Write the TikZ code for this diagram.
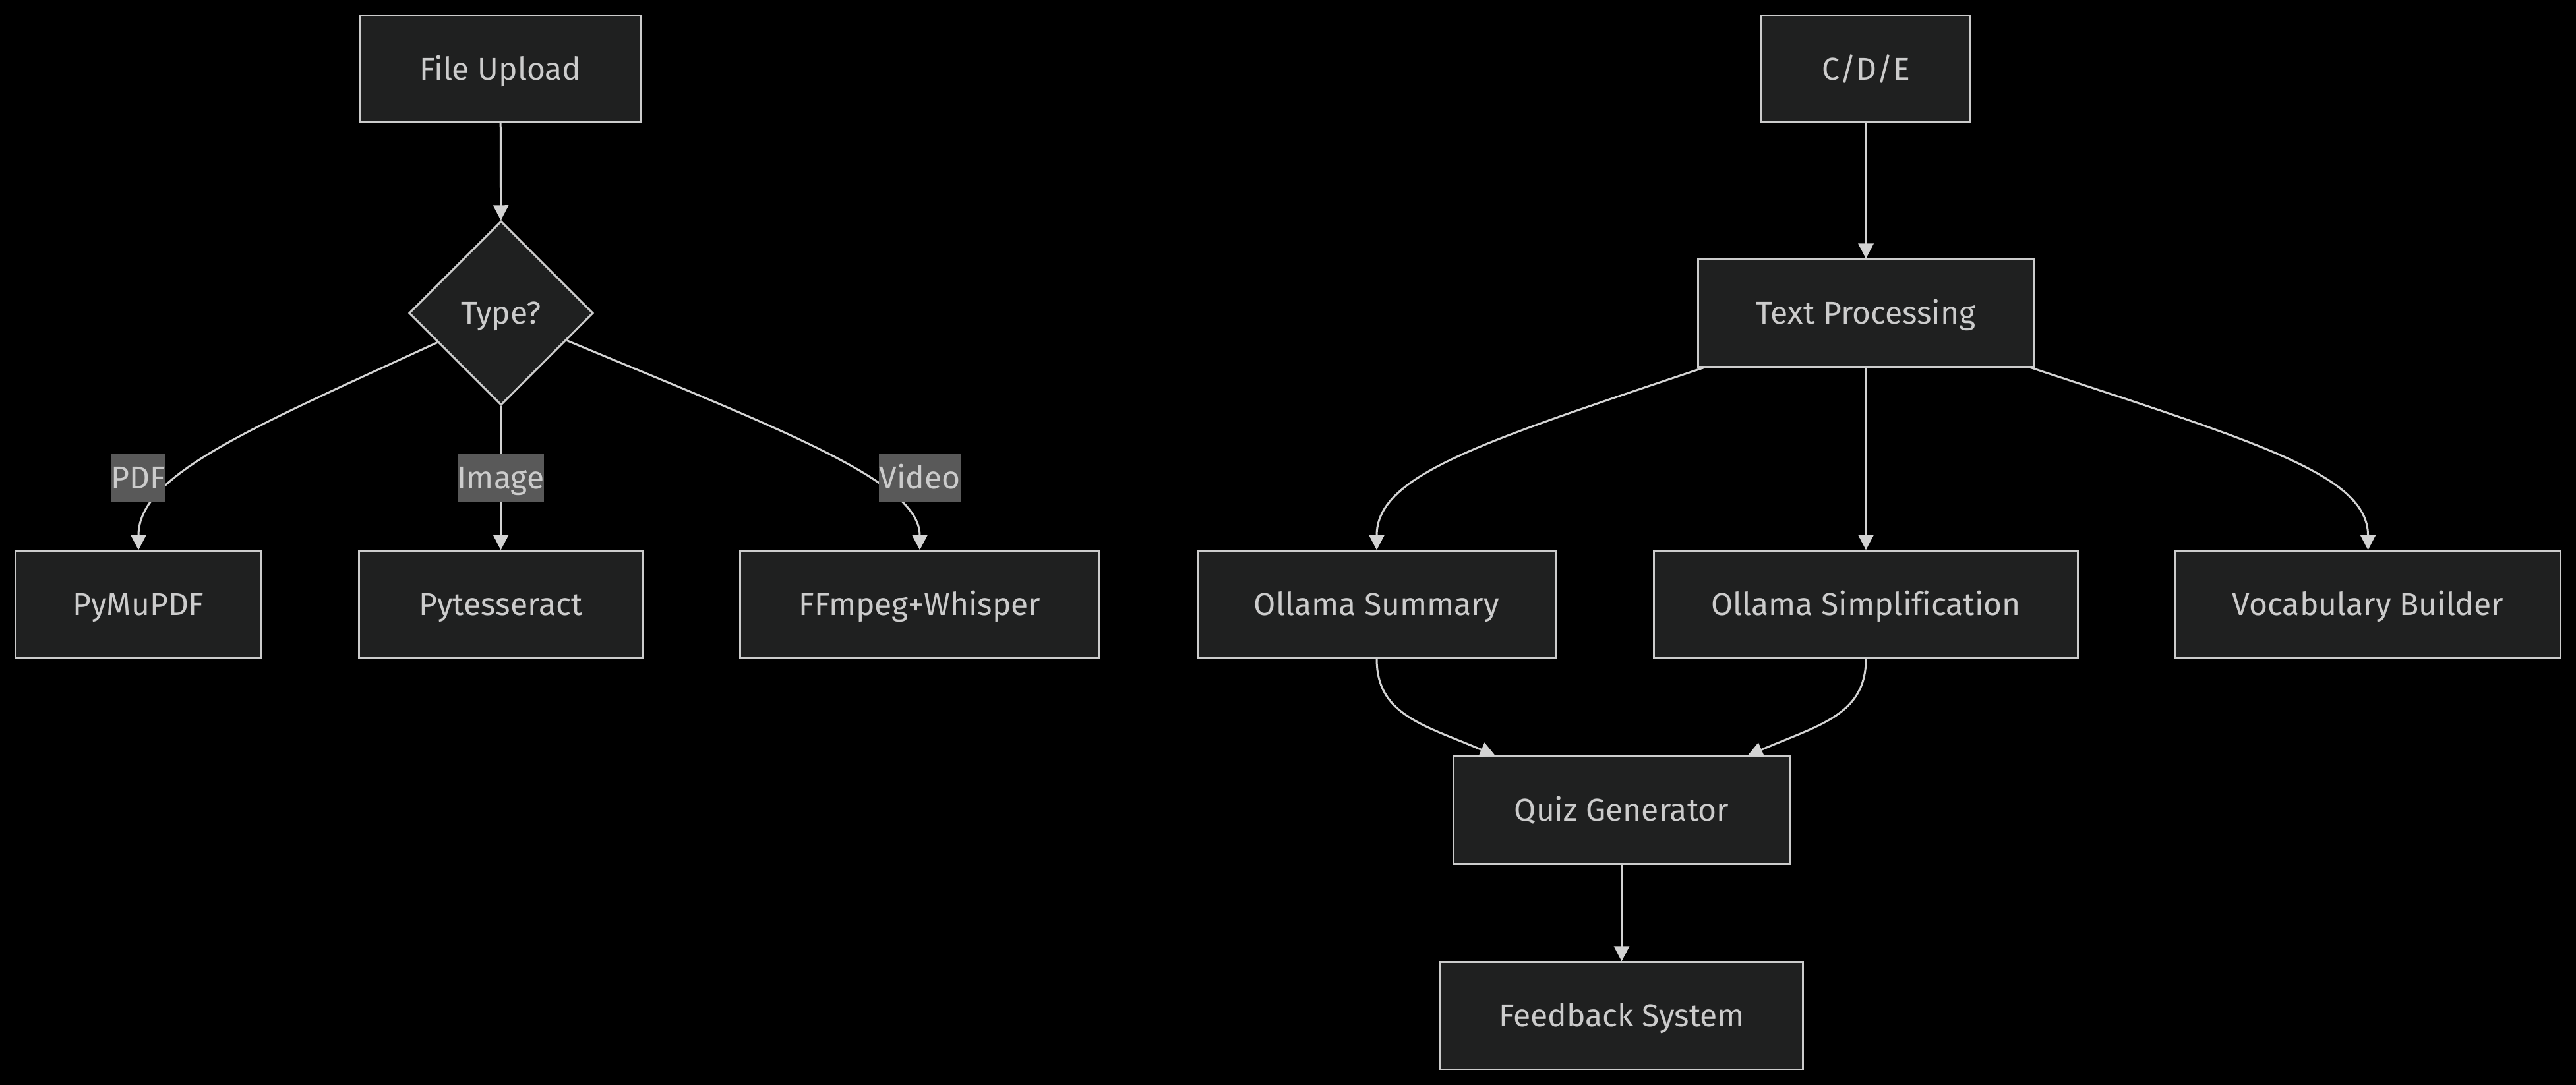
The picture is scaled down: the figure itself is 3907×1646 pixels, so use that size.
\documentclass[tikz,border=0pt]{standalone}
\usepackage{fontspec}
\setmainfont{Fira Sans}[Ligatures=NoCommon]
\usepackage{tikz}
\usetikzlibrary{arrows.meta,shapes.geometric}
\definecolor{nodefill}{HTML}{1F2020}
\definecolor{nodeline}{HTML}{CCCCCC}
\definecolor{edgeline}{HTML}{D3D3D3}
\definecolor{labelfill}{HTML}{595959}
\definecolor{textgrey}{HTML}{CCCCCC}

\begin{document}
\begin{tikzpicture}[x=0.01cm,y=-0.01cm]
        \tikzstyle{every node}+=[inner sep=0pt,text=textgrey,font=\fontsize{13.66}{16}\selectfont,text height=0.33cm,text depth=0cm]
        \tikzstyle{box}=[draw=nodeline,fill=nodefill,line width=0.03cm,minimum height=1.62cm]
        \tikzstyle{decision}=[box,diamond,shape aspect=1,minimum size=2.79cm]
        \tikzstyle{edgelabel}=[fill=labelfill,minimum height=0.72cm]
        \tikzstyle{link}=[draw=edgeline,line width=0.03cm,-{Triangle[length=0.23cm,width=0.23cm]}]
        \fill [black] (0,0) rectangle (3907,1646);
        \node [box,minimum width=4.24cm] (upload) at (759,104.5) {File Upload};
        \node [decision] (type) at (760,475) {Type?};
        \node [box,minimum width=3.72cm] (pdf) at (210,917) {PyMuPDF};
        \node [box,minimum width=4.29cm] (ocr) at (759.5,917) {Pytesseract};
        \node [box,minimum width=5.44cm] (video) at (1395,917) {FFmpeg+Whisper};
        \node [box,minimum width=3.17cm] (cde) at (2830,104.5) {C/D/E};
        \node [box,minimum width=5.09cm] (textproc) at (2830,475) {Text Processing};
        \node [box,minimum width=5.42cm] (summary) at (2088,917) {Ollama Summary};
        \node [box,minimum width=6.43cm] (simplify) at (2830,917) {Ollama Simplification};
        \node [box,minimum width=5.83cm] (vocab) at (3591.5,917) {Vocabulary Builder};
        \node [box,minimum width=5.09cm] (quiz) at (2459.5,1229) {Quiz Generator};
        \node [box,minimum width=5.49cm] (feedback) at (2459.5,1541) {Feedback System};
        \draw [link] (upload) -- (type);
        \draw [link] (type) .. controls (380,650) and (210,720) .. (pdf);
        \draw [link] (type) -- (ocr);
        \draw [link] (type) .. controls (1180,650) and (1395,730) .. (video);
        \node [edgelabel] (lpdf) at (210,725) {PDF};
        \node [edgelabel] (limage) at (759.5,725) {Image};
        \node [edgelabel] (lvideo) at (1395,725) {Video};
        \draw [link] (cde) -- (textproc);
        \draw [link] (textproc) .. controls (2250,670) and (2088,720) .. (summary);
        \draw [link] (textproc) -- (simplify);
        \draw [link] (textproc) .. controls (3420,670) and (3591.5,720) .. (vocab);
        \draw [link] (summary) .. controls (2088,1085) and (2160,1100) .. (quiz);
        \draw [link] (simplify) .. controls (2830,1085) and (2758,1100) .. (quiz);
        \draw [link] (quiz) -- (feedback);
\end{tikzpicture}
\end{document}
